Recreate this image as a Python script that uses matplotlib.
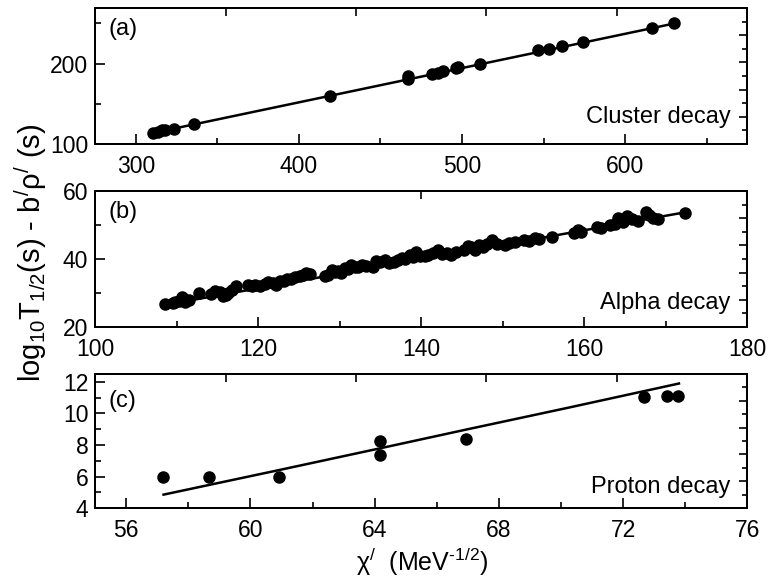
#!/usr/bin/env python3
"""Three stacked panels: log10 T1/2 - b'rho' against chi' for cluster, alpha and proton decay."""

import matplotlib
matplotlib.use("Agg")
import matplotlib.pyplot as plt
from matplotlib.ticker import MultipleLocator, NullFormatter


# (a) cluster decay
CLUSTER_CHI = [310.6, 313.3, 315.9, 318.0, 323.1, 335.8, 418.8, 466.6, 466.8,
               481.7, 485.0, 488.3, 496.3, 497.5, 510.9, 546.7, 553.3, 561.3,
               574.0, 616.4, 630.2]
CLUSTER_VAL = [113.3, 115.4, 117.5, 118.0, 118.8, 125.0, 159.6, 181.0, 185.0,
               186.7, 188.5, 190.8, 194.0, 195.5, 200.0, 216.7, 217.9, 221.7,
               227.0, 243.8, 250.8]
CLUSTER_FIT_CHI = [310.0, 632.0]
CLUSTER_FIT_VAL = [113.5, 250.5]

# (b) alpha decay
ALPHA_CHI = [108.6, 109.5, 109.8, 110.3, 110.7, 111.0, 111.5, 112.7, 114.2, 114.7,
             115.3, 115.7, 116.0, 116.3, 116.8, 117.3, 118.8, 119.2, 119.6, 120.2,
             120.8, 121.2, 121.8, 122.2, 122.7, 123.2, 123.5, 124.0, 124.5, 125.1,
             125.5, 125.9, 126.3, 128.2, 128.6, 129.0, 129.4, 129.8, 130.2, 130.6,
             131.0, 131.4, 131.9, 132.3, 132.7, 133.2, 134.1, 134.5, 135.0, 135.5,
             136.0, 136.7, 137.1, 137.6, 138.0, 138.6, 139.0, 139.4, 139.8, 140.4,
             140.8, 141.4, 142.1, 142.6, 143.2, 143.7, 144.3, 145.3, 145.7, 146.1,
             146.6, 147.1, 147.6, 148.1, 148.7, 149.3, 150.3, 150.8, 151.5, 152.6,
             153.2, 153.9, 154.5, 156.1, 158.8, 159.2, 159.6, 161.6, 162.0, 163.2,
             163.8, 164.2, 164.8, 165.3, 165.8, 166.6, 167.6, 168.0, 168.4, 169.0,
             172.4]
ALPHA_VAL = [26.8, 27.0, 27.4, 27.6, 28.8, 27.4, 28.0, 30.0, 29.8, 30.7,
             30.3, 29.1, 29.5, 30.0, 30.9, 32.0, 32.5, 32.2, 32.5, 32.0,
             32.8, 33.3, 33.0, 32.5, 33.5, 33.6, 34.0, 34.2, 34.6, 34.9,
             35.2, 35.9, 35.5, 35.0, 35.4, 36.9, 36.2, 36.6, 36.0, 37.4,
             37.0, 38.3, 37.6, 37.8, 38.3, 38.0, 37.6, 39.5, 39.0, 39.8,
             38.8, 39.1, 39.8, 40.3, 40.0, 41.1, 40.5, 42.2, 40.9, 40.8,
             41.3, 41.8, 42.6, 41.5, 41.8, 41.1, 42.0, 42.6, 43.8, 43.6,
             42.8, 44.1, 43.5, 44.5, 45.6, 44.3, 44.1, 44.8, 45.0, 45.6,
             45.3, 46.1, 46.0, 46.6, 47.8, 48.4, 48.0, 49.4, 49.0, 50.1,
             50.4, 52.1, 51.0, 52.8, 51.8, 51.1, 53.7, 53.0, 52.1, 51.8,
             53.6]
ALPHA_FIT_CHI = [108.5, 172.5]
ALPHA_FIT_VAL = [26.5, 53.8]

# (c) proton decay
PROTON_CHI = [57.18, 58.66, 60.91, 64.16, 64.16, 66.94, 72.69, 73.42, 73.77]
PROTON_VAL = [5.96, 5.96, 5.96, 8.23, 7.36, 8.39, 11.03, 11.13, 11.13]
PROTON_FIT_CHI = [57.2, 60.9, 64.2, 67.0, 70.2, 73.8]
PROTON_FIT_VAL = [4.85, 6.4, 7.8, 9.0, 10.35, 11.9]

FONT = "Liberation Sans"


def frame_ticks(ax, top_ticks):
    # Origin-style layer axes on the right and top, unlabelled
    right = ax.twinx()
    right.set_ylim(0, 10)
    right.yaxis.set_major_locator(MultipleLocator(2))
    right.yaxis.set_minor_locator(MultipleLocator(1))
    right.yaxis.set_major_formatter(NullFormatter())
    right.tick_params(which="both", direction="in", width=1.2)
    right.tick_params(which="major", length=6)
    right.tick_params(which="minor", length=3.5)
    top = ax.twiny()
    top.set_xlim(0, 10)
    top.set_xticks(top_ticks)
    top.xaxis.set_major_formatter(NullFormatter())
    top.tick_params(direction="in", length=6, width=1.2)
    for a in (right, top):
        for sp in a.spines.values():
            sp.set_linewidth(1.4)


def draw_panel(ax, x, y, fx, fy, xlim, ylim, xstep, ystep, tag, name,
               tag_y, name_y, top_ticks):
    ax.plot(fx, fy, color="black", lw=1.8, zorder=2)
    ax.plot(x, y, "o", color="black", ms=8, mec="black", zorder=3)
    ax.set_xlim(*xlim)
    ax.set_ylim(*ylim)
    ax.xaxis.set_major_locator(MultipleLocator(xstep))
    ax.xaxis.set_minor_locator(MultipleLocator(xstep / 2))
    ax.yaxis.set_major_locator(MultipleLocator(ystep))
    ax.yaxis.set_minor_locator(MultipleLocator(ystep / 2))
    ax.tick_params(which="both", direction="in", top=False, right=False,
                   labelsize=16.5, width=1.2)
    ax.tick_params(axis="y", pad=5)
    ax.tick_params(axis="x", pad=8)
    ax.tick_params(which="major", length=7)
    ax.tick_params(which="minor", length=4)
    for sp in ax.spines.values():
        sp.set_linewidth(1.4)
    ax.text(0.02, tag_y, tag, transform=ax.transAxes, ha="left", va="top",
            fontsize=17)
    ax.text(0.974, name_y, name, transform=ax.transAxes, ha="right",
            va="baseline", fontsize=17)
    frame_ticks(ax, top_ticks)


def main():
    plt.rcParams.update({
        "font.family": [FONT, "DejaVu Sans"],
        "mathtext.fontset": "custom",
        "mathtext.rm": FONT,
        "mathtext.it": FONT + ":italic",
        "mathtext.default": "rm",
    })

    fig = plt.figure(figsize=(7.68, 5.83), dpi=100)
    left, width = 0.124, 0.849
    ax_a = fig.add_axes([left, 0.753, width, 0.2333])
    ax_b = fig.add_axes([left, 0.439, width, 0.2333])
    ax_c = fig.add_axes([left, 0.1286, width, 0.2298])

    draw_panel(ax_a, CLUSTER_CHI, CLUSTER_VAL, CLUSTER_FIT_CHI, CLUSTER_FIT_VAL,
               (275, 675), (100, 269), 100, 100, "(a)", "Cluster decay",
               0.93, 0.155, [2, 4, 6, 8])
    draw_panel(ax_b, ALPHA_CHI, ALPHA_VAL, ALPHA_FIT_CHI, ALPHA_FIT_VAL,
               (100, 180), (20, 60), 20, 20, "(b)", "Alpha decay",
               0.93, 0.13, [5])
    draw_panel(ax_c, PROTON_CHI, PROTON_VAL, PROTON_FIT_CHI, PROTON_FIT_VAL,
               (55, 76), (4, 12.5), 4, 2, "(c)", "Proton decay",
               0.88, 0.11, [2, 4, 6, 8])

    fig.text(0.040, 0.567, r"log$_{10}$T$_{1/2}$(s) - b$^{/}$ρ$^{/}$ (s)",
             rotation=90, ha="center", va="center", fontsize=21)
    fig.text(0.55, 0.036, r"χ$^{/}$  (MeV$^{\text{-}1/2}$)", ha="center",
             va="center", fontsize=18)

    fig.savefig("out.png", dpi=100)
    plt.close(fig)


if __name__ == "__main__":
    main()
